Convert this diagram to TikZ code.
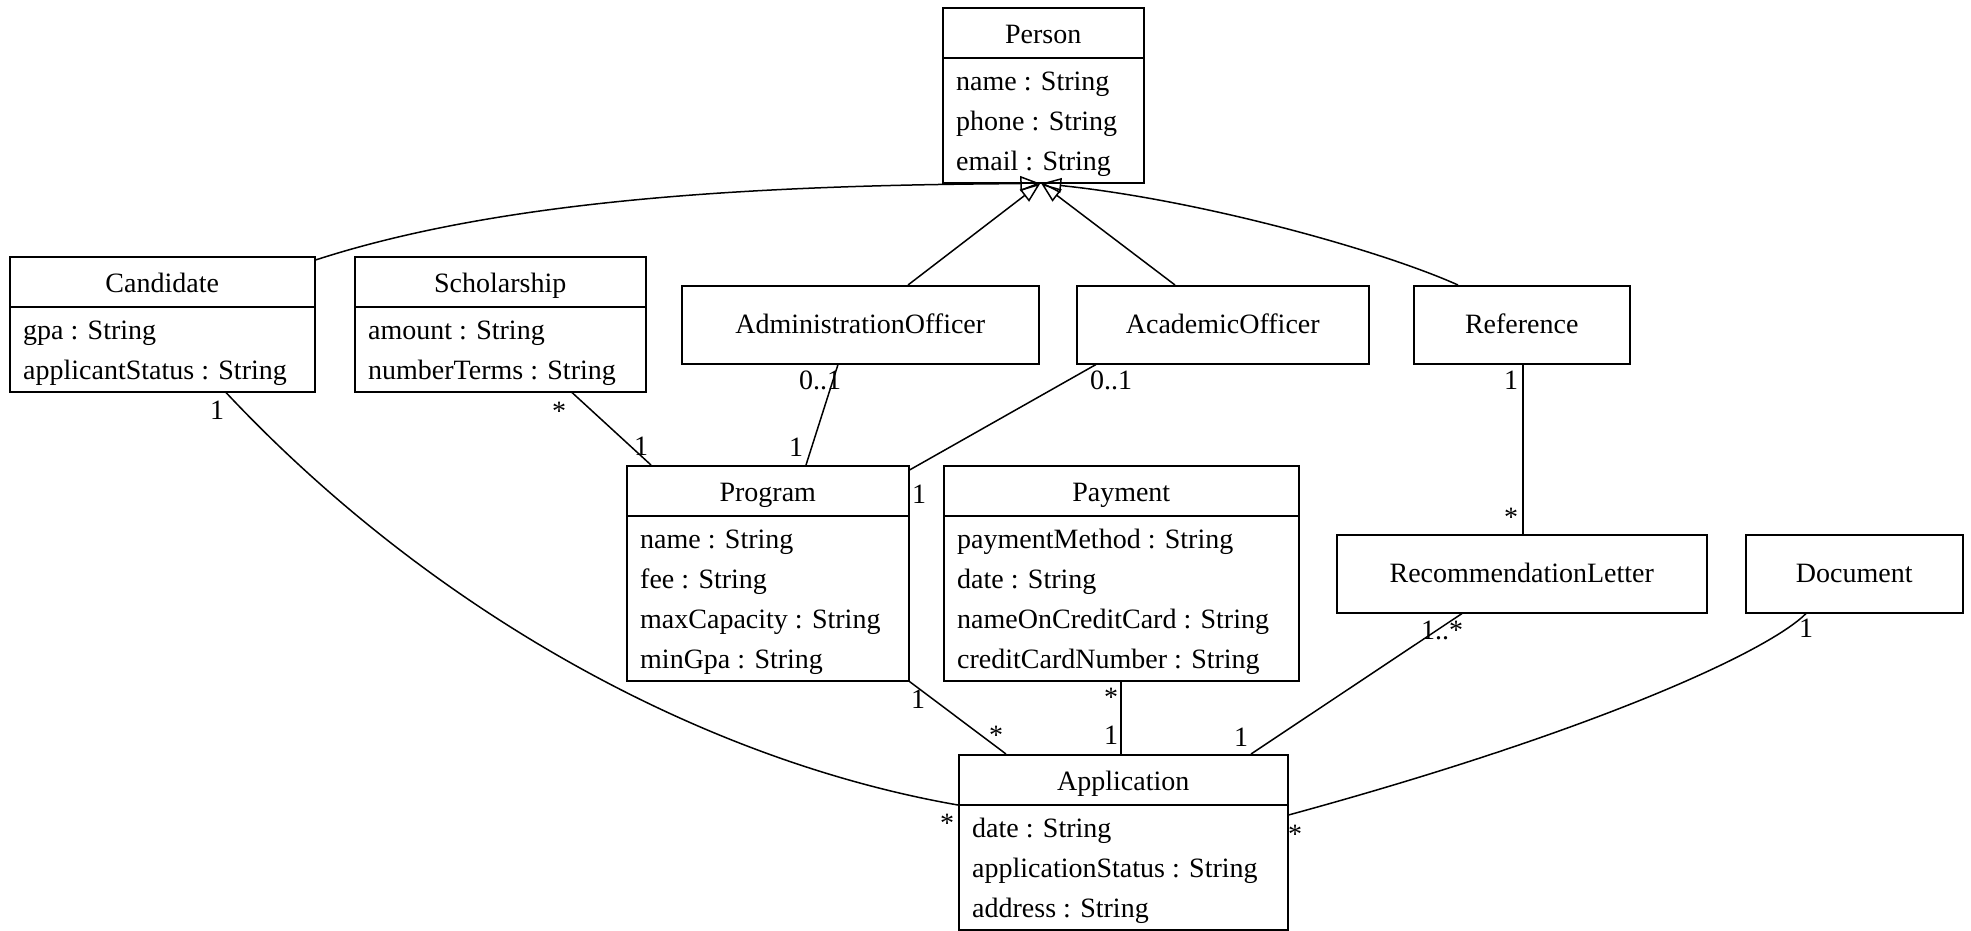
\documentclass[tikz,border=0pt]{standalone}
\usepackage{fontspec}
\setmainfont{Liberation Serif}
\usetikzlibrary{arrows.meta,calc}
\tikzset{
  clsbox/.style={draw, line width=1.5pt, inner sep=0pt},
  txt/.style={inner sep=0pt, font=\fontsize{28}{34}\selectfont},
  clstitle/.style={txt, anchor=base},
  attr/.style={txt, anchor=base west},
  mult/.style={txt},
  assoc/.style={line width=1.5pt},
  gen/.style={line width=1.5pt, -{Triangle[open, length=20pt, width=15pt, line width=1.5pt]}},
}
\newcommand\umlcls[7]{%
  \node[clsbox, minimum width=#4, minimum height={55+40*#5}, anchor=north west] (#1) at (#2,#3) {};
  \node[clstitle] (#1-t) at ([yshift=-36pt]#1.north) {#6};
  \draw[line width=1.5pt] ([yshift=-51pt]#1.north west) -- ([yshift=-51pt]#1.north east);
  \foreach \a [count=\i] in {#7} {\node[attr] (#1-a\i) at ([xshift=14pt, yshift={-(83+40*(\i-1))*1pt}]#1.north west) {\a};}
}
\newcommand\umlsimple[5]{%
  \node[clsbox, minimum width=#4, minimum height=78, anchor=north west] (#1) at (#2,#3) {};
  \node[clstitle] (#1-t) at ([yshift=-48pt]#1.north) {#5};
}
\begin{document}
\begin{tikzpicture}[x=1pt,y=-1pt]
\useasboundingbox (0,0) rectangle (1971,930);
\umlcls{person}{942}{7}{201}{3}{Person}{name : String, phone : String, email : String}
\umlcls{cand}{9}{256}{305}{2}{Candidate}{gpa : String, applicantStatus : String}
\umlcls{schol}{354}{256}{291}{2}{Scholarship}{amount : String, numberTerms : String}
\umlsimple{admin}{681}{285}{357}{AdministrationOfficer}
\umlsimple{acad}{1076}{285}{292}{AcademicOfficer}
\umlsimple{ref}{1413}{285}{216}{Reference}
\umlcls{prog}{626}{465}{282}{4}{Program}{name : String, fee : String, maxCapacity : String, minGpa : String}
\umlcls{pay}{943}{465}{355}{4}{Payment}{paymentMethod : String, date : String, nameOnCreditCard : String, creditCardNumber : String}
\umlsimple{rec}{1336}{534}{370}{RecommendationLetter}
\umlsimple{doc}{1745}{534}{217}{Document}
\umlcls{app}{958}{754}{329}{3}{Application}{date : String, applicationStatus : String, address : String}

% generalizations
\draw[gen] ([yshift=-4pt]cand.north east) .. controls (500,200) and (750,185) .. ([xshift=-3pt]person.south);
\draw[gen] ([xshift=227pt]admin.north west) -- ([xshift=-3pt]person.south);
\draw[gen] ([xshift=99pt]acad.north west) -- ([xshift=-2pt]person.south);
\draw[gen] ([xshift=45pt]ref.north west) .. controls (1380,250) and (1200,200) .. ([xshift=-2pt]person.south);

% associations
\draw[assoc] ([xshift=217pt]cand.south west) .. controls (430,610) and (700,760) .. ([yshift=-51pt]app.north west);
\draw[assoc] ([xshift=218pt]schol.south west) -- ([xshift=25pt]prog.north west);
\draw[assoc] ([xshift=157pt]admin.south west) -- ([xshift=180pt]prog.north west);
\draw[assoc] ([xshift=20pt]acad.south west) -- ([yshift=-5pt]prog.north east);
\draw[assoc] (prog.south east) -- ([xshift=48pt]app.north west);
\draw[assoc] ([xshift=178pt]pay.south west) -- ([xshift=163pt]app.north west);
\draw[assoc] ([xshift=126pt]rec.south west) -- ([xshift=293pt]app.north west);
\draw[assoc] ([xshift=110pt]ref.south west) -- ([xshift=187pt]rec.north west);
\draw[assoc] ([xshift=61pt]doc.south west) .. controls (1770,650) and (1600,730) .. ([yshift=-61pt]app.north east);

% multiplicities
\node[mult] (m1) at (217,410) {1};
\node[mult] (m2) at (947,823) {*};
\node[mult] (m3) at (559,411) {*};
\node[mult] (m4) at (641,446) {1};
\node[mult] (m5) at (820,380) {0..1};
\node[mult] (m6) at (796,447) {1};
\node[mult] (m7) at (1111,380) {0..1};
\node[mult] (m8) at (919,494) {1};
\node[mult] (m9) at (918,699) {1};
\node[mult] (m10) at (996,735) {*};
\node[mult] (m11) at (1111,697) {*};
\node[mult] (m12) at (1111,735) {1};
\node[mult] (m13) at (1442,630) {1..*};
\node[mult] (m14) at (1241,737) {1};
\node[mult] (m15) at (1511,380) {1};
\node[mult] (m16) at (1511,517) {*};
\node[mult] (m17) at (1806,628) {1};
\node[mult] (m18) at (1295,834) {*};
\end{tikzpicture}
\end{document}
